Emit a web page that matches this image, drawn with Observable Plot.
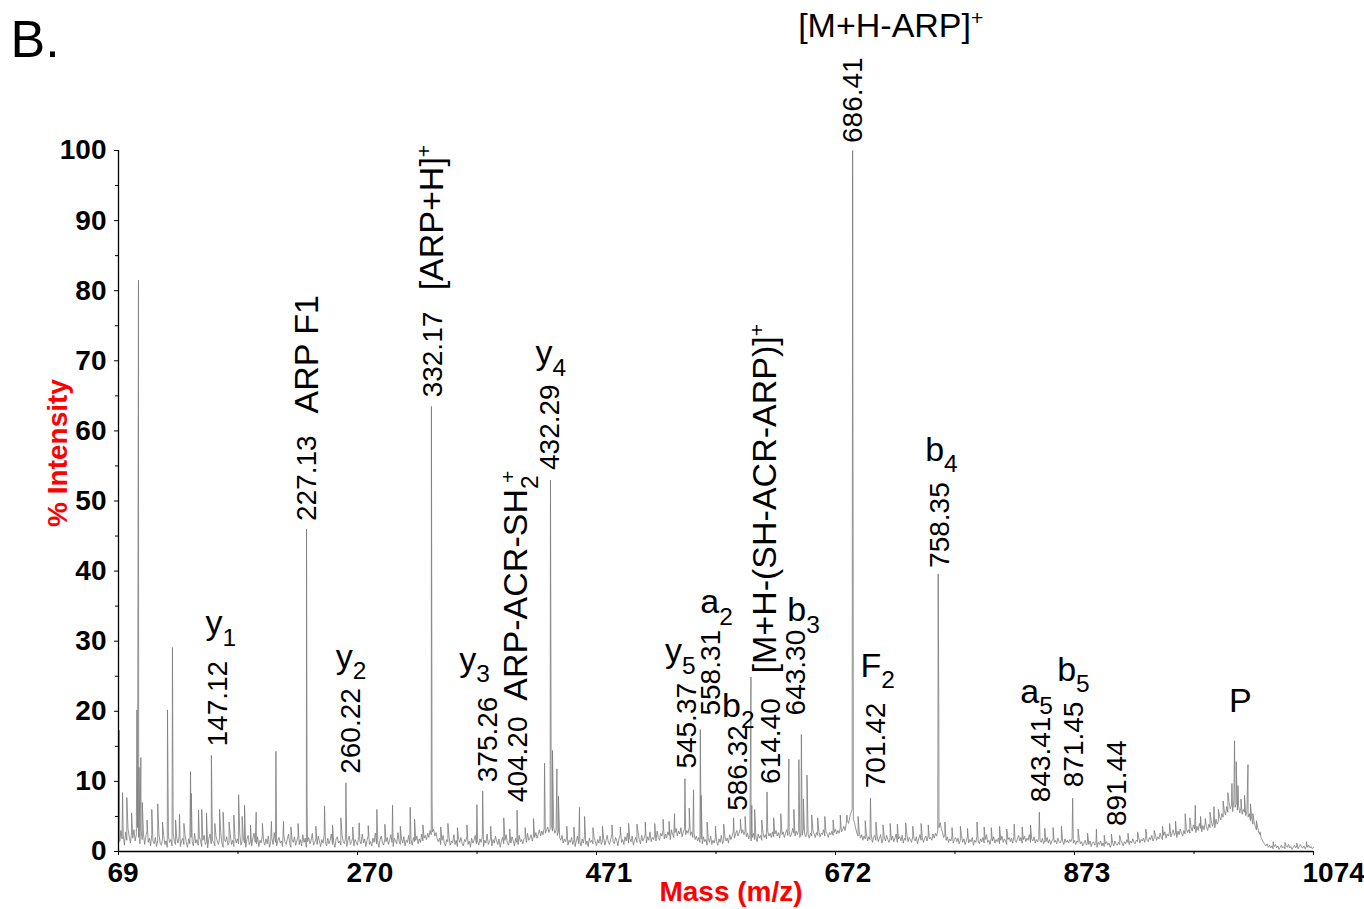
<!DOCTYPE html>
<html>
<head>
<meta charset="utf-8">
<script src="https://cdn.jsdelivr.net/npm/d3@7"></script>
<script src="https://cdn.jsdelivr.net/npm/@observablehq/plot@0.6"></script>
<style>
  body { margin: 0; background: #fff; }
  #chart svg { display: block; }
</style>
</head>
<body>
<div id="chart"></div>
<script>
// ---- MS/MS spectrum data -------------------------------------------------

// Noise floor of the profile, one sample per m/z unit from m/z 69 (% intensity)
const baselineStart = 69;
const baselineStep = 1;
const baseline = [
  // 69-118
  2.6,1.4,3.0,1.8,2.3,0.9,2.8,1.6,3.3,2.1, 1.2,2.7,1.9,3.1,1.5,2.4,3.4,2.0,1.1,2.9,
  1.7,2.5,1.0,2.2,3.0,1.3,1.9,0.8,2.4,1.5, 1.1,2.0,0.7,1.6,2.5,1.2,0.9,1.8,2.3,1.0,
  1.5,0.6,2.1,1.3,1.7,0.8,2.6,1.4,1.0,1.9,
  // 119-168
  1.2,2.2,0.7,1.5,1.9,1.0,2.4,1.3,0.6,1.8, 1.1,2.0,1.4,0.8,2.6,1.2,1.7,0.9,2.1,1.5,
  0.7,1.6,2.3,1.0,1.4,0.5,1.9,2.5,1.1,1.6, 1.3,0.8,2.2,1.5,1.0,1.8,2.7,1.2,0.6,1.7,
  1.4,2.1,0.9,1.3,2.4,1.0,1.6,0.7,2.0,1.2,
  // 169-218
  1.8,1.1,2.5,0.9,1.5,2.0,1.2,0.6,1.7,2.3, 1.0,1.4,0.8,1.9,2.6,1.3,1.1,2.1,0.7,1.6,
  1.2,2.4,1.5,0.9,1.8,1.1,2.2,0.6,1.4,1.9, 1.0,2.7,1.3,0.8,1.6,2.0,1.2,1.5,0.7,2.3,
  1.4,1.0,1.8,2.5,1.1,0.6,1.7,1.3,2.1,0.9,
  // 219-268
  1.5,2.2,1.0,1.7,0.8,2.4,1.3,1.9,0.6,1.4, 2.0,1.1,1.6,2.6,0.9,1.3,1.8,1.0,2.2,1.5,
  0.7,1.7,1.2,2.3,1.4,0.8,1.9,1.1,1.6,2.5, 1.0,1.3,0.6,1.8,2.1,1.2,1.5,0.9,2.4,1.4,
  1.1,1.9,0.7,1.6,2.2,1.0,1.4,2.0,0.8,1.7,
  // 269-318
  1.3,0.9,2.1,1.5,1.1,2.5,1.2,1.8,0.7,1.6, 2.3,1.0,1.4,0.8,1.9,1.3,2.6,1.1,1.5,0.6,
  1.7,2.2,1.2,0.9,1.8,1.4,2.0,1.0,1.6,2.4, 1.3,0.7,1.9,1.5,1.1,2.7,1.4,1.0,1.8,1.2,
  2.1,0.8,1.6,1.3,2.3,1.1,1.7,0.9,2.0,1.4,
  // 319-368
  1.6,2.2,1.1,1.8,1.3,2.5,1.5,1.9,2.3,1.7, 2.6,2.0,3.0,2.4,2.8,3.2,2.2,2.7,1.8,1.4,
  1.9,1.0,1.6,2.3,1.2,0.8,1.7,1.4,2.1,0.9, 1.5,1.2,2.4,1.0,1.6,0.7,1.8,1.3,2.0,1.1,
  0.8,1.7,1.4,2.2,1.0,1.5,0.6,1.9,1.2,1.6,
  // 369-418
  2.3,1.1,1.5,0.9,1.8,1.3,2.1,0.7,1.6,1.2, 2.5,1.0,1.4,1.9,0.8,1.7,1.2,2.2,1.5,1.0,
  1.8,0.6,1.4,2.0,1.1,1.6,2.4,1.3,0.9,1.7, 1.2,2.1,1.5,0.8,1.9,1.3,1.0,2.3,1.4,1.7,
  1.1,1.8,2.0,1.3,2.6,1.6,1.9,2.4,1.5,2.2,
  // 419-468
  2.0,2.7,1.9,2.5,3.1,2.2,2.9,2.4,3.3,2.6, 3.0,3.5,2.7,3.2,3.8,2.9,3.4,2.6,3.1,2.3,
  2.8,2.0,1.6,2.3,1.2,1.8,1.4,2.1,0.9,1.6, 1.3,2.0,1.0,1.7,0.7,1.5,2.2,1.1,1.4,0.8,
  1.8,1.2,2.3,1.0,1.5,0.7,1.9,1.3,1.6,1.1,
  // 469-518
  2.0,1.4,0.8,1.7,1.2,2.2,1.0,1.5,1.9,0.9, 1.6,2.3,1.3,1.0,1.8,2.5,1.4,1.1,2.0,1.6,
  0.8,1.9,2.4,1.3,1.7,1.0,2.1,1.5,2.6,1.2, 1.8,1.4,2.2,0.9,1.6,2.0,1.3,2.7,1.7,1.1,
  2.3,1.5,1.9,2.5,1.2,2.1,1.6,2.8,1.4,2.0,
  // 519-568
  1.7,2.4,1.5,2.9,2.0,1.6,2.6,2.2,3.0,1.8, 2.5,1.9,2.8,2.3,1.7,3.1,2.4,2.0,2.7,3.3,
  2.2,2.9,2.5,3.4,2.1,2.8,3.2,2.4,3.0,2.6, 3.5,2.3,2.8,2.0,2.6,1.7,2.2,1.5,2.0,1.3,
  1.8,1.1,2.1,1.4,1.7,0.9,1.9,1.3,2.2,1.0,
  // 569-618
  1.6,1.2,2.0,1.4,0.9,1.8,1.3,2.3,1.1,1.6, 2.1,1.5,1.9,1.2,2.4,1.7,2.2,2.8,1.9,2.5,
  3.0,2.2,2.7,3.3,2.6,3.1,2.4,2.9,2.1,2.6, 1.8,2.3,1.5,2.0,2.6,1.7,2.2,1.4,2.5,1.9,
  2.3,1.6,2.7,2.0,2.4,1.8,2.9,2.2,2.6,2.0,
  // 619-668
  2.8,2.1,2.5,3.0,2.2,2.7,1.9,3.2,2.4,2.8, 2.0,2.6,3.1,2.3,2.9,2.1,2.5,3.3,2.6,2.2,
  2.9,2.4,3.0,2.0,2.7,2.3,3.2,2.5,2.1,2.8, 2.4,1.9,2.6,2.2,3.0,2.5,2.0,2.7,2.3,2.9,
  2.1,2.6,2.4,3.1,2.2,2.8,2.5,2.0,2.7,2.4,
  // 669-718
  2.9,2.3,2.7,3.2,2.5,3.0,2.6,3.4,2.8,3.1, 3.6,3.0,3.9,4.4,4.0,4.9,5.5,6.0,4.6,4.1,
  3.3,2.6,2.2,2.8,1.9,2.4,1.6,2.2,1.8,2.5, 1.5,2.1,1.7,2.6,1.3,2.0,2.3,1.6,2.2,1.4,
  1.9,2.4,1.2,1.8,2.1,1.5,2.3,1.7,1.3,2.0,
  // 719-768
  1.6,2.2,1.4,1.9,2.5,1.3,1.8,2.1,1.5,2.3, 1.2,1.9,1.6,2.4,1.4,2.0,1.7,1.3,2.2,1.8,
  1.5,2.1,1.1,1.8,2.4,1.6,2.0,1.3,1.9,2.2, 1.5,2.3,1.8,2.0,1.6,2.5,1.9,2.6,2.2,3.0,
  3.4,4.1,3.3,2.7,2.0,2.4,1.6,2.1,1.3,1.8,
  // 769-818
  1.5,2.2,1.2,1.7,2.0,1.4,1.9,1.1,1.6,2.3, 1.3,1.8,1.0,1.5,2.1,1.2,1.7,1.4,2.0,0.9,
  1.6,1.3,2.2,1.5,1.1,1.8,1.4,2.0,1.2,1.7, 2.4,1.3,1.6,1.0,1.9,1.5,2.1,1.2,1.7,1.4,
  1.9,1.1,1.6,2.2,1.3,1.8,1.5,1.0,1.7,2.0,
  // 819-868
  1.4,1.9,1.2,2.1,1.6,1.3,1.8,2.3,1.5,2.0, 1.2,1.7,2.2,1.4,1.9,1.6,2.4,1.3,1.8,1.5,
  2.1,1.2,1.7,1.4,2.0,1.6,1.3,1.9,1.1,1.6, 1.4,2.0,1.2,1.7,1.0,1.5,1.8,1.3,1.6,1.1,
  1.9,1.4,1.2,1.7,1.5,1.0,1.8,1.3,1.6,1.2,
  // 869-918
  1.7,1.4,1.9,1.2,1.6,1.0,1.5,1.3,1.8,1.1, 1.4,0.8,1.2,1.6,0.9,1.3,1.0,1.5,0.7,1.2,
  1.4,0.9,1.1,0.6,1.3,1.0,1.5,0.8,1.2,0.7, 1.1,1.4,0.9,1.2,0.6,1.0,1.3,0.8,1.5,1.1,
  0.9,1.3,1.0,1.6,1.2,0.8,1.4,1.1,1.7,1.3,
  // 919-968
  1.0,1.5,1.2,1.8,1.3,1.1,1.6,1.4,2.0,1.2, 1.7,1.5,1.9,1.3,2.2,1.6,1.4,2.0,1.7,2.3,
  1.5,1.9,2.4,1.6,2.1,1.8,2.6,2.0,1.7,2.3, 2.8,1.9,2.5,2.2,2.9,2.1,2.6,3.1,2.3,2.7,
  2.0,2.9,2.4,3.2,2.6,2.2,3.0,2.5,3.4,2.7,
  // 969-1018
  3.1,2.6,3.5,2.9,3.8,3.2,2.7,3.6,3.0,4.0, 3.3,2.8,3.7,3.1,4.2,3.5,3.0,3.9,3.4,4.4,
  3.6,4.1,3.4,4.6,3.9,4.3,5.0,4.5,5.4,4.9, 5.8,5.2,6.4,5.6,7.0,6.1,6.6,5.7,7.2,6.3,
  6.8,5.9,6.5,5.5,6.2,5.3,6.0,5.6,5.1,5.8,
  // 1019-1068
  4.9,5.4,4.4,4.8,3.9,4.3,3.6,3.1,3.5,2.7, 2.4,2.0,1.6,1.3,1.0,0.8,1.1,0.6,0.9,0.5,
  0.8,0.4,0.7,1.0,0.5,0.8,0.3,0.6,0.9,0.5, 0.7,0.4,0.8,0.6,1.0,0.5,0.7,0.3,0.6,0.9,
  0.5,0.8,0.4,0.7,1.0,0.6,0.5,0.8,0.4,0.7,
  // 1069-1074
  0.6,0.9,0.5,0.7,0.4,0.6
];

// Centroided peaks: [m/z, % intensity]
const peaks = [
  [69.6,17.3],[72.4,8.4],[76.0,7.7],[80.0,5.5],[84.5,20.2],[85.8,81.5],[86.3,12.0],[87.8,13.4],
  [89.0,7.0],[93.0,4.5],[97.0,6.0],[102.0,6.8],[106.0,4.2],[110.2,20.2],[114.4,29.1],[117.0,4.5],
  [120.3,5.3],[124.0,4.0],[129.6,11.4],[130.2,8.3],[136.3,5.9],[139.0,6.0],[143.0,5.5],[147.12,13.7],
  [150.0,4.0],[154.0,6.0],[157.0,5.6],[162.0,4.2],[166.0,5.2],[170.0,8.1],[173.0,5.0],[175.0,6.6],
  [180.0,3.8],[184.8,5.6],[190.0,4.0],[197.6,4.3],[201.4,14.3],[207.8,4.3],[214.0,3.5],[220.0,4.0],
  [227.13,46.0],[227.6,7.2],[235.0,3.6],[242.3,6.5],[249.0,3.8],[256.0,4.8],[260.22,9.8],[266.0,3.5],
  [271.4,4.1],[279.0,3.7],[286.3,6.0],[293.0,3.9],[299.5,6.6],[306.0,3.6],[314.3,6.3],[318.0,4.6],
  [325.0,3.8],[332.17,63.5],[332.7,7.9],[340.0,3.5],[346.0,4.0],[354.0,3.4],[362.0,3.8],[370.4,6.7],
  [375.26,8.6],[382.0,3.6],[393.0,4.8],[398.0,3.2],[404.20,5.9],[411.0,3.4],[418.0,4.7],[427.3,12.6],
  [432.29,53.0],[434.0,14.4],[437.7,11.8],[439.0,7.9],[446.0,3.6],[452.0,3.5],[456.7,6.3],[461.0,5.0],
  [468.0,3.4],[476.0,3.6],[484.0,3.8],[491.0,3.5],[498.0,4.0],[505.0,3.9],[512.0,4.2],[520.0,4.0],
  [527.0,4.6],[532.0,4.3],[536.6,5.4],[545.37,10.4],[549.0,6.2],[552.6,8.8],[558.31,17.4],[559.0,8.0],
  [564.0,4.2],[571.0,3.6],[578.0,3.9],[586.32,4.8],[592.0,4.6],[596.0,5.0],[600.9,24.9],[601.6,6.6],
  [604.0,6.0],[610.0,4.5],[614.40,8.5],[620.0,4.8],[626.0,5.4],[632.8,13.2],[637.0,6.0],[641.2,13.1],
  [643.30,16.7],[645.0,7.5],[648.0,10.9],[652.0,5.2],[657.0,4.8],[663.0,5.0],[670.0,4.5],[676.0,5.2],
  [681.6,5.2],[686.41,100],[686.9,34.0],[691.0,5.0],[697.0,4.4],[701.42,7.6],[706.0,4.2],[712.0,3.8],
  [718.0,4.0],[724.0,3.9],[731.0,4.1],[737.0,3.6],[744.0,4.0],[750.0,3.8],[758.35,39.6],[758.9,19.0],
  [764.0,4.2],[770.0,3.4],[777.0,3.6],[783.0,3.3],[791.0,4.2],[797.0,3.5],[803.0,3.4],[810.0,3.6],
  [816.0,3.2],[822.3,3.9],[829.0,3.5],[836.0,3.8],[843.41,5.6],[848.0,3.3],[855.0,3.4],[862.0,3.6],
  [871.45,7.6],[876.0,3.2],[884.0,2.6],[891.44,3.2],[898.0,2.3],[904.0,2.5],[911.0,2.3],[918.0,2.6],
  [926.0,2.8],[933.0,3.2],[940.0,3.0],[947.0,3.6],[953.0,4.0],[958.0,4.3],[966.1,5.4],[970.0,4.8],
  [974.6,6.6],[979.0,5.0],[983.0,4.7],[987.0,5.6],[990.3,6.4],[994.0,6.0],[998.0,7.2],[1002.0,8.4],
  [1005.4,9.7],[1007.6,15.8],[1009.0,12.8],[1010.5,9.4],[1013.0,7.5],[1016.0,8.0],[1018.9,12.4],
  [1021.0,6.8],[1023.0,5.4],[1026.0,4.4],[1029.0,2.8],[1040.0,1.4],[1050.0,1.3],[1060.0,1.2],[1068.0,1.4]
];

// Peaks annotated with their m/z
const massLabels = [147.12, 227.13, 260.22, 332.17, 375.26, 404.20, 432.29, 545.37, 558.31,
                    586.32, 614.40, 643.30, 686.41, 701.42, 758.35, 843.41, 871.45, 891.44];

// Fragment assignments (_x = subscript, ^x = superscript)
const ionLabels = [
  {peak: 147.12, label: "y_1"},
  {peak: 260.22, label: "y_2"},
  {peak: 375.26, label: "y_3"},
  {peak: 432.29, label: "y_4"},
  {peak: 545.37, label: "y_5"},
  {peak: 558.31, label: "a_2"},
  {peak: 586.32, label: "b_2"},
  {peak: 643.30, label: "b_3"},
  {peak: 701.42, label: "F_2"},
  {peak: 758.35, label: "b_4"},
  {peak: 843.41, label: "a_5"},
  {peak: 871.45, label: "b_5"},
  {peak: 1007.6, label: "P"},
  {peak: 686.41, label: "[M+H-ARP]^+"},
  {peak: 227.13, label: "ARP F1", vertical: true},
  {peak: 332.17, label: "[ARP+H]^+", vertical: true},
  {peak: 404.20, label: "ARP-ACR-SH_2^+", vertical: true},
  {peak: 600.9, label: "[M+H-(SH-ACR-ARP)]^+", vertical: true}
];

const xTicks = [69, 270, 471, 672, 873, 1074];
const xMinorTicks = [169.5, 370.5, 571.5, 772.5, 973.5];
const yTicks = [0, 10, 20, 30, 40, 50, 60, 70, 80, 90, 100];
const yMinorTicks = [5, 15, 25, 35, 45, 55, 65, 75, 85, 95];

// ---- layout: pixel nudges for the annotations, relative to each peak apex ----
const massNudge = {
  "147.12": [7, -9], "227.13": [1, -8], "260.22": [5, -9], "332.17": [2, -9],
  "375.26": [5, -9], "404.20": [1, -8], "432.29": [0, -10], "545.37": [2, -10],
  "558.31": [11, -14], "586.32": [4, -7], "614.40": [4, -8], "643.30": [-5, -19],
  "686.41": [0, -7.5], "701.42": [6, -10], "758.35": [2, -6], "843.41": [2, -10],
  "871.45": [1.5, -11], "891.44": [21, -3]
};
const ionNudge = {
  "y_1": [-6, -132], "y_2": [-10, -126], "y_3": [-23.5, -131.5], "y_4": [-15, -126.5],
  "y_5": [-20, -127], "a_2": [0, -127], "b_2": [-11.5, -112], "b_3": [-14, -124],
  "F_2": [-10, -132.5], "b_4": [-13, -123.5], "a_5": [-19, -120.5], "b_5": [-15.5, -128.5],
  "P": [-5.5, -40], "[M+H-ARP]^+": [-54.5, -124.5],
  "ARP F1": [1, -115.5], "[ARP+H]^+": [1, -116], "ARP-ACR-SH_2^+": [-1, -109.5],
  "[M+H-(SH-ACR-ARP)]^+": [14, -3.5]
};

// ---- build the profile trace ---------------------------------------------
const peakHeight = new Map(peaks);
const trace = baseline
  .map((v, i) => ({mz: baselineStart + i * baselineStep, intensity: v}))
  .concat(peaks.map(([mz, intensity]) => ({mz, intensity})))
  .sort((a, b) => a.mz - b.mz);

const FONT = "Arial, 'Liberation Sans', Helvetica, sans-serif";
const fmt = d3.format(".2f");

const massMarks = massLabels.map(mz => {
  const [dx, dy] = massNudge[fmt(mz)];
  return Plot.text([{mz, h: peakHeight.get(mz)}], {
    x: "mz", y: "h", text: d => fmt(d.mz),
    rotate: -90, textAnchor: "start", lineAnchor: "middle",
    fontSize: 28, fill: "#000", dx, dy
  });
});

const ionMarks = ionLabels.map(d => {
  const [dx, dy] = ionNudge[d.label];
  return Plot.text([{mz: d.peak, h: peakHeight.get(d.peak), label: d.label}], {
    x: "mz", y: "h", text: "label",
    rotate: d.vertical ? -90 : 0, textAnchor: "start", lineAnchor: "middle",
    fontSize: 34, fill: "#000", dx, dy
  });
});

const chart = Plot.plot({
  width: 1364,
  height: 909,
  marginLeft: 118,
  marginRight: 51,
  marginTop: 150,
  marginBottom: 58,
  style: {fontFamily: FONT, background: "#fff", overflow: "visible", color: "#000"},
  x: {domain: [69, 1074]},
  y: {domain: [0, 100]},
  marks: [
    Plot.line(trace, {x: "mz", y: "intensity", stroke: "#7a7a7a", strokeWidth: 0.8}),
    Plot.ruleY([0], {stroke: "#000", strokeWidth: 1.3}),
    Plot.ruleX([69], {y1: 0, y2: 100, stroke: "#000", strokeWidth: 1.3}),
    // y axis: ticks, minor ticks, labels
    Plot.axisY(yTicks, {anchor: "left", tickSize: 4, tickFormat: () => "", label: null}),
    Plot.axisY(yMinorTicks, {anchor: "left", tickSize: 3, tickFormat: () => "", label: null}),
    Plot.axisY(yTicks, {anchor: "left", tickSize: 0, tickPadding: 12, fontSize: 28,
      fontWeight: "bold", tickFormat: d => String(d), label: null}),
    // x axis: ticks, minor ticks, labels
    Plot.axisX(xTicks, {anchor: "bottom", tickSize: 4, tickFormat: () => "", label: null}),
    Plot.axisX(xMinorTicks, {anchor: "bottom", tickSize: 3, tickFormat: () => "", label: null}),
    Plot.axisX(xTicks, {anchor: "bottom", tickSize: 0, tickPadding: 11, fontSize: 28,
      fontWeight: "bold", textAnchor: "start", dx: -11, tickFormat: d => String(d), label: null}),
    // axis titles
    Plot.text(["% Intensity"], {frameAnchor: "left", rotate: -90, textAnchor: "middle",
      lineAnchor: "middle", fontSize: 28, fontWeight: "bold", fill: "#ff0000", dx: -60, dy: -48}),
    Plot.text(["Mass (m/z)"], {frameAnchor: "bottom", textAnchor: "middle", lineAnchor: "middle",
      fontSize: 28, fontWeight: "bold", fill: "#ff0000", dx: 15, dy: 41}),
    // panel letter
    Plot.text(["B."], {frameAnchor: "top-left", textAnchor: "start", lineAnchor: "top",
      fontSize: 52, fill: "#000", dx: -108, dy: -130}),
    ...massMarks,
    ...ionMarks
  ]
});

document.getElementById("chart").appendChild(chart);

// Render _x / ^x markup in annotation strings as sub/superscripts
const SVGNS = "http://www.w3.org/2000/svg";
chart.querySelectorAll("text").forEach(node => {
  const raw = node.textContent;
  if (!/[_^]/.test(raw)) return;
  const fs = parseFloat(getComputedStyle(node).fontSize) || 34;
  node.textContent = "";
  let offset = 0;
  let prev = "";
  for (const part of raw.match(/[_^].|[^_^]+/g)) {
    const span = document.createElementNS(SVGNS, "tspan");
    let target = 0;
    if (part[0] === "_") {
      target = 0.33 * fs;
      span.setAttribute("font-size", (0.72 * fs).toFixed(1));
      span.textContent = part[1];
    } else if (part[0] === "^") {
      target = -0.36 * fs;
      span.setAttribute("font-size", (0.62 * fs).toFixed(1));
      span.textContent = part[1];
      if (prev === "_") span.setAttribute("dx", (-0.22 * fs).toFixed(1));
    } else {
      span.textContent = part;
    }
    span.setAttribute("dy", (target - offset).toFixed(1));
    offset = target;
    prev = part[0];
    node.appendChild(span);
  }
});
</script>
</body>
</html>
